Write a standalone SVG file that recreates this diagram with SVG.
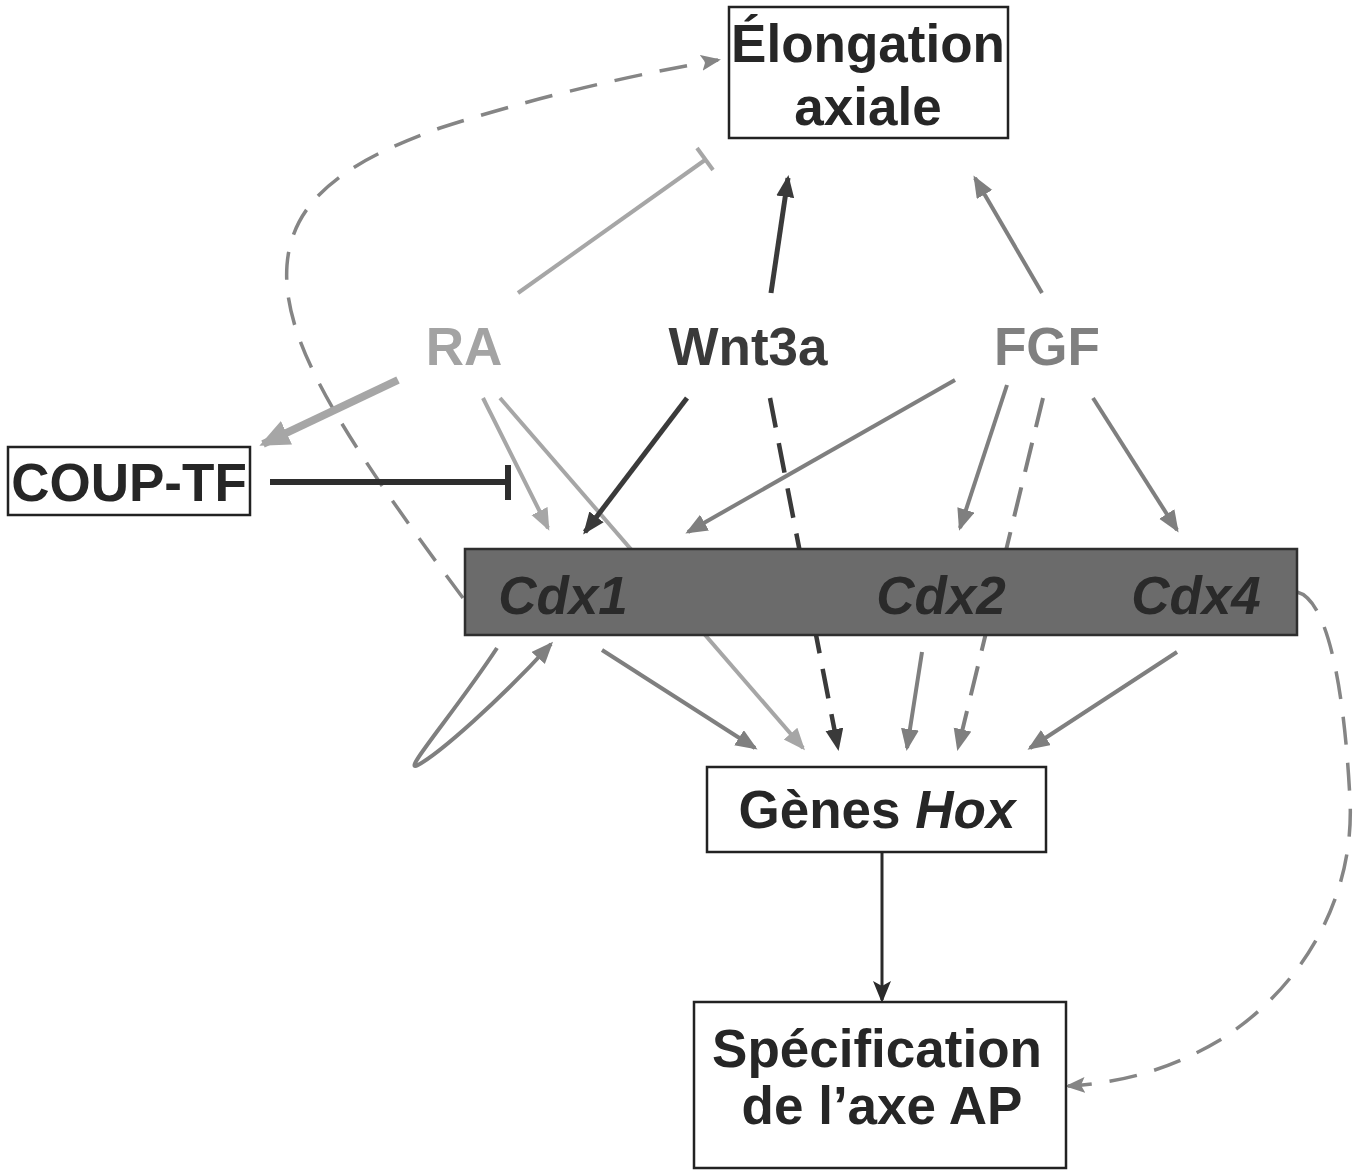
<svg xmlns="http://www.w3.org/2000/svg" width="1363" height="1170" viewBox="0 0 1363 1170">
<style>
.box{fill:#fff;stroke:#222;stroke-width:2.5}
.t{font-family:"Liberation Sans",Arial,sans-serif;font-weight:bold;font-size:53px;fill:#262626;text-anchor:middle}
.ci{font-style:italic;fill:#2a2a2a}
.c{fill:none;stroke-linecap:butt}
.lg{stroke:#a6a6a6;stroke-width:4}
.mg{stroke:#7f7f7f;stroke-width:4}
.dg{stroke:#3a3a3a;stroke-width:5}
.dash{stroke-dasharray:30 16}
.dash2{stroke-dasharray:28 18}
</style>
<defs>
<marker id="aL" markerUnits="userSpaceOnUse" markerWidth="24" markerHeight="20" refX="19" refY="9" orient="auto"><path d="M0,0 L22,9 L0,18 z" fill="#a6a6a6"/></marker>
<marker id="aLb" markerUnits="userSpaceOnUse" markerWidth="34" markerHeight="30" refX="26" refY="13" orient="auto"><path d="M0,0 L30,13 L0,26 z" fill="#a6a6a6"/></marker>
<marker id="aM" markerUnits="userSpaceOnUse" markerWidth="24" markerHeight="20" refX="19" refY="9" orient="auto"><path d="M0,0 L22,9 L0,18 z" fill="#7f7f7f"/></marker>
<marker id="aD" markerUnits="userSpaceOnUse" markerWidth="24" markerHeight="20" refX="19" refY="9" orient="auto"><path d="M0,0 L22,9 L0,18 z" fill="#3a3a3a"/></marker>
<marker id="aK" markerUnits="userSpaceOnUse" markerWidth="24" markerHeight="20" refX="19" refY="9" orient="auto"><path d="M0,0 L22,9 L0,18 L5,9 z" fill="#2a2a2a"/></marker>
<marker id="aMs" markerUnits="userSpaceOnUse" markerWidth="24" markerHeight="20" refX="17" refY="8" orient="auto"><path d="M0,0 L20,8 L0,16 L4,8 z" fill="#858585"/></marker>
</defs>

<g id="connectors">
<!-- lines passing under the Cdx bar -->
<line class="c lg" x1="500" y1="398" x2="803" y2="748" marker-end="url(#aL)"/>
<line class="c dg dash" x1="770" y1="398" x2="838" y2="748" marker-end="url(#aD)" style="stroke-width:4.5"/>
<line class="c mg dash" x1="1043" y1="398" x2="958" y2="748" marker-end="url(#aM)"/>
<!-- dashed loops -->
<path class="c mg dash2" style="stroke:#858585;stroke-width:3.5" d="M463,598 C 330,420 282,335 287,265 C 292,200 345,162 440,128 Q 570,86 718,60" marker-end="url(#aMs)"/>
<path class="c mg dash2" style="stroke:#858585;stroke-width:3.5" d="M1297,592 C 1330,600 1345,700 1350,800 C 1355,900 1300,990 1220,1040 C 1170,1070 1120,1083 1068,1086" marker-end="url(#aMs)"/>
<!-- RA inhibits elongation -->
<line class="c lg" x1="518" y1="293" x2="705" y2="160"/>
<line class="c lg" x1="697" y1="148" x2="713" y2="170"/>
<!-- to elongation -->
<line class="c dg" x1="771" y1="293" x2="788" y2="178" marker-end="url(#aD)"/>
<line class="c mg" x1="1042" y1="293" x2="975" y2="178" marker-end="url(#aM)"/>
<!-- RA to COUP-TF -->
<line class="c lg" style="stroke-width:8" x1="398" y1="380" x2="263" y2="444" marker-end="url(#aLb)"/>
<!-- COUP-TF inhibits Cdx1 -->
<line class="c" style="stroke:#2e2e2e;stroke-width:6" x1="270" y1="482" x2="508" y2="482"/>
<line class="c" style="stroke:#2e2e2e;stroke-width:6" x1="508" y1="465" x2="508" y2="500"/>
<!-- to Cdx -->
<line class="c lg" x1="483" y1="398" x2="548" y2="528" marker-end="url(#aL)"/>
<line class="c dg" x1="687" y1="398" x2="585" y2="532" marker-end="url(#aD)"/>
<line class="c mg" x1="955" y1="380" x2="688" y2="532" marker-end="url(#aM)"/>
<line class="c mg" x1="1007" y1="385" x2="960" y2="528" marker-end="url(#aM)"/>
<line class="c mg" x1="1093" y1="398" x2="1177" y2="530" marker-end="url(#aM)"/>
<!-- Cdx to Hox -->
<line class="c mg" x1="602" y1="650" x2="755" y2="748" marker-end="url(#aM)"/>
<line class="c mg" x1="922" y1="652" x2="907" y2="748" marker-end="url(#aM)"/>
<line class="c mg" x1="1177" y1="652" x2="1030" y2="748" marker-end="url(#aM)"/>
<!-- Cdx1 self loop -->
<path class="c mg" d="M497,648 C 455,712 400,775 418,765 C 440,753 500,700 551,644" marker-end="url(#aM)"/>
<!-- Hox to spec -->
<line class="c" style="stroke:#2a2a2a;stroke-width:3" x1="882" y1="852" x2="882" y2="1000" marker-end="url(#aK)"/>
</g>

<g id="elongation">
<rect class="box" x="729" y="7" width="279" height="131"/>
<text class="t" x="868" y="62">Élongation</text>
<text class="t" x="868" y="125">axiale</text>
</g>
<g id="ra"><text class="t" x="464" y="365" style="fill:#a3a3a3">RA</text></g>
<g id="wnt3a"><text class="t" x="748" y="365" style="fill:#3a3a3a">Wnt3a</text></g>
<g id="fgf"><text class="t" x="1047" y="365" style="fill:#808080">FGF</text></g>
<g id="couptf">
<rect class="box" x="8" y="447" width="242" height="68"/>
<text class="t" x="129" y="501">COUP-TF</text>
</g>
<g id="cdx">
<rect x="465" y="549" width="832" height="86" fill="#6b6b6b" stroke="#2e2e2e" stroke-width="2.5"/>
<text class="t ci" x="563" y="614">Cdx1</text>
<text class="t ci" x="941" y="614">Cdx2</text>
<text class="t ci" x="1196" y="614">Cdx4</text>
</g>
<g id="hox">
<rect class="box" x="707" y="767" width="339" height="85"/>
<text class="t" x="877" y="828">Gènes <tspan style="font-style:italic">Hox</tspan></text>
</g>
<g id="spec">
<rect class="box" x="694" y="1002" width="372" height="166"/>
<text class="t" x="877" y="1067">Spécification</text>
<text class="t" x="882" y="1124">de l’axe AP</text>
</g>
</svg>
